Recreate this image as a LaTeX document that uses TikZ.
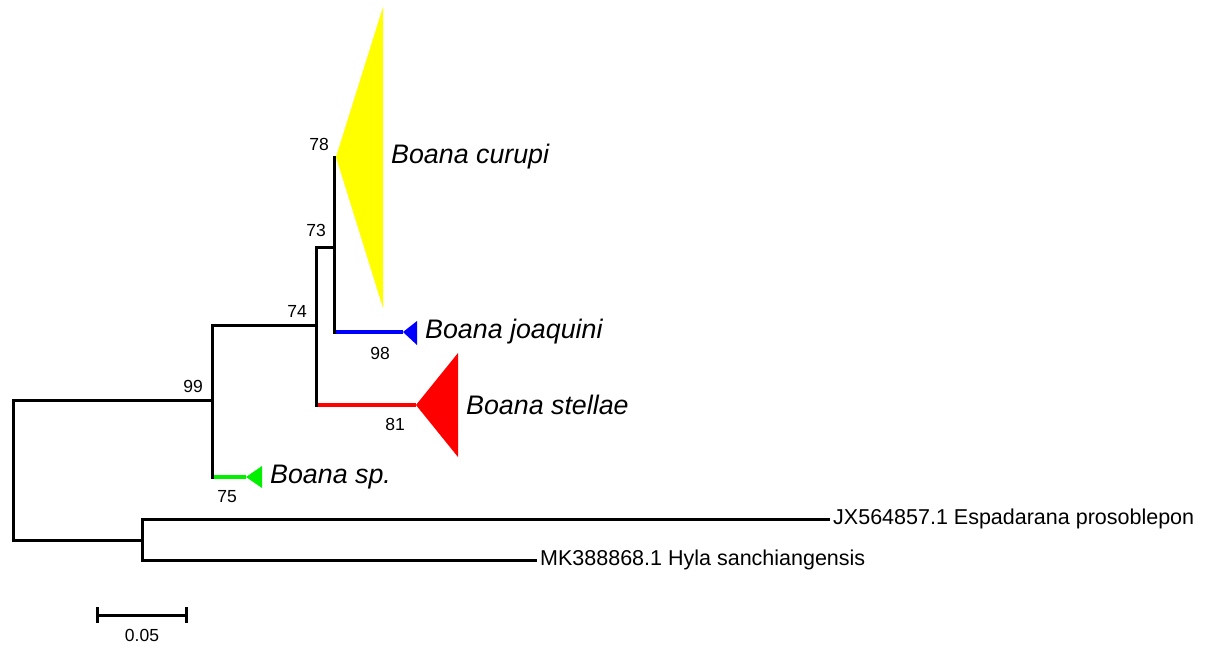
\documentclass[tikz,border=0pt]{standalone}
\usepackage{fontspec}
\setmainfont{Liberation Sans}
\begin{document}
\begin{tikzpicture}[x=1pt,y=-1pt,
  br/.style={line width=3pt,line cap=rect},
  cbr/.style={line width=3.5pt},
  clade/.style={font=\fontsize{26.8}{30}\selectfont\itshape,anchor=west,inner sep=0pt},
  tip/.style={font=\fontsize{21.5}{24}\selectfont,anchor=west,inner sep=0pt},
  sup/.style={font=\fontsize{17.5}{20}\selectfont,inner sep=0pt}]
\useasboundingbox (0,0) rectangle (1206,651);
\definecolor{cyel}{RGB}{255,255,0}
\definecolor{cblu}{RGB}{0,0,255}
\definecolor{cred}{RGB}{255,0,0}
\definecolor{cgrn}{RGB}{0,240,0}

% internal nodes
\coordinate (rA) at (13,400);
\coordinate (rB) at (13,540);
\coordinate (n99) at (212,400);
\coordinate (n99t) at (212,325);
\coordinate (n99b) at (212,477);
\coordinate (n74) at (316,325);
\coordinate (n74t) at (316,247);
\coordinate (n74b) at (316,405);
\coordinate (n73) at (334,247);
\coordinate (n73t) at (334,157);
\coordinate (n73b) at (334,332);
\coordinate (out) at (142,540);
\coordinate (outt) at (142,519);
\coordinate (outb) at (142,560);

% clade apexes
\coordinate (ycur) at (336,157);
\coordinate (bjoa) at (403,332);
\coordinate (rste) at (416,405);
\coordinate (gsp) at (246,477);

% outgroup tips
\coordinate (tJX) at (828,519);
\coordinate (tMK) at (535,560);

% collapsed clades
\fill[cyel] (ycur) -- (383,7) -- (383,308) -- cycle;
\fill[cblu] (bjoa) -- (417,321) -- (417,345) -- cycle;
\fill[cred] (rste) -- (458,353) -- (458,457) -- cycle;
\fill[cgrn] (gsp) -- (262,466) -- (262,488) -- cycle;

% coloured branches
\draw[cbr,cblu] (n73b) -- (bjoa);
\draw[cbr,cred] (n74b) -- (rste);
\draw[cbr,cgrn] (n99b) -- (gsp);

% black branches
\draw[br] (rA) -- (rB);
\draw[br] (rA) -- (n99);
\draw[br] (rB) -- (out);
\draw[br] (n99t) -- (n99b);
\draw[br] (n99t) -- (n74);
\draw[br] (n74t) -- (n74b);
\draw[br] (n74t) -- (n73);
\draw[br] (n73t) -- (n73b);
\draw[br] (outt) -- (outb);
\draw[br] (outt) -- (tJX);
\draw[br] (outb) -- (tMK);

% labels
\node[clade] (lcur) at (391,157) {Boana curupi};
\node[clade] (ljoa) at (425,332) {Boana joaquini};
\node[clade] (lste) at (466,405) {Boana stellae};
\node[clade] (lsp) at (270,477) {Boana sp.};
\node[tip] (lJX) at (833,519) {JX564857.1 Espadarana prosoblepon};
\node[tip] (lMK) at (540,560) {MK388868.1 Hyla sanchiangensis};

% bootstrap values
\node[sup] (s78) at (319,144) {78};
\node[sup] (s73) at (316,230) {73};
\node[sup] (s74) at (297,311) {74};
\node[sup] (s99) at (193,386) {99};
\node[sup] (s98) at (380,353) {98};
\node[sup] (s81) at (395,424) {81};
\node[sup] (s75) at (227,497) {75};

% scale bar
\coordinate (sbL) at (97,615);
\coordinate (sbR) at (186,615);
\draw[line width=3pt] (sbL) -- (sbR);
\draw[line width=3pt] ([yshift=-8pt]sbL) -- ([yshift=8pt]sbL);
\draw[line width=3pt] ([yshift=-8pt]sbR) -- ([yshift=8pt]sbR);
\node[sup] (sbt) at (142,635) {0.05};
\end{tikzpicture}
\end{document}
